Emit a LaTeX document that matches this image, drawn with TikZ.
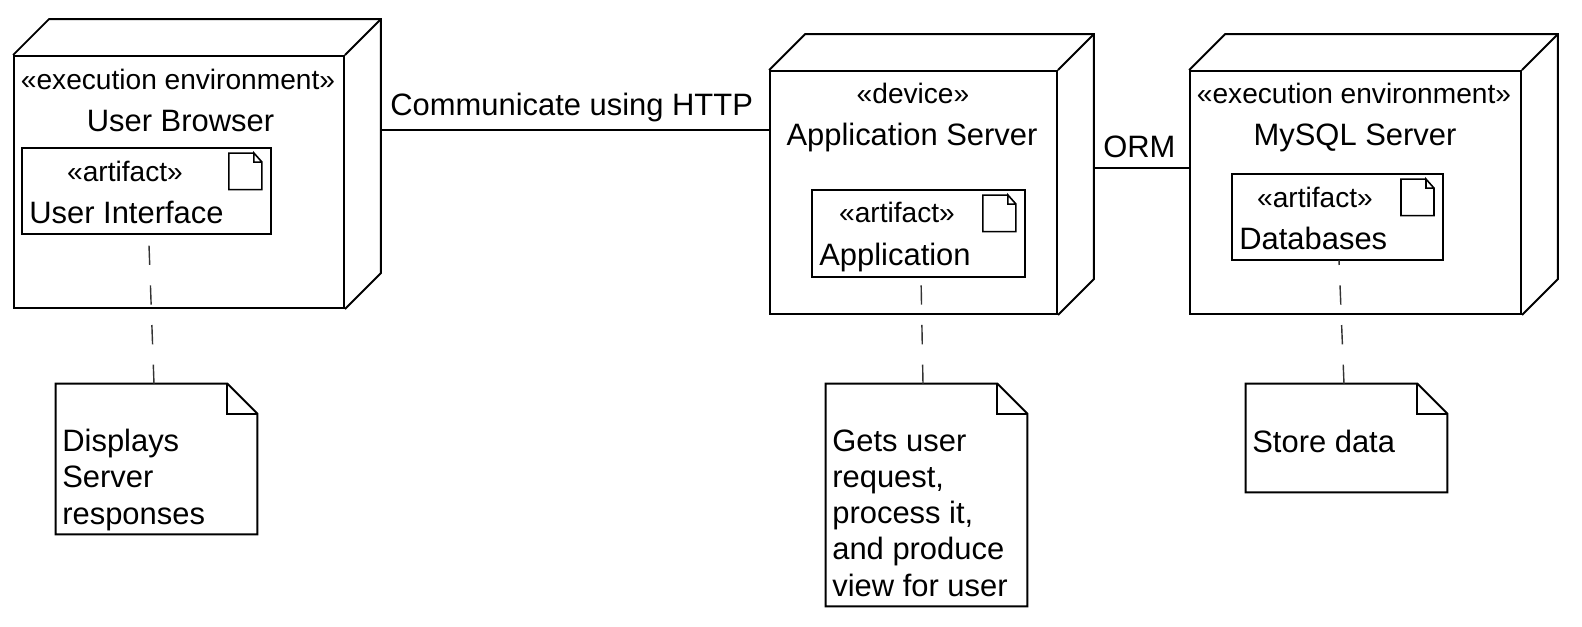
\documentclass[tikz,border=0pt]{standalone}
\usepackage{fontspec}
\setmainfont{Liberation Sans}
\usepackage{tikz}
\usepackage{xcolor}
\newcommand*{\BigText}{\fontsize{17.6}{20.5}\selectfont}
\newcommand*{\SmallText}{\fontsize{16}{19}\selectfont}
\tikzset{
    boxline/.style={draw=black, line width=1.1pt, line join=miter},
    devicebox/.style={boxline, inner sep=0pt},
    stereo/.style={anchor=base, inner sep=0pt, font=\SmallText},
    title/.style={anchor=base, inner sep=0pt, font=\BigText},
    lefttext/.style={anchor=base west, inner sep=0pt, font=\BigText, align=left},
    notelink/.style={draw=black!80, line width=0.8pt, dash pattern=on 11pt off 11.6pt},
}

\begin{document}
\begin{tikzpicture}[x=0.02cm, y=-0.02cm]
    \useasboundingbox (0,0) rectangle (1582,626);

    % the three cubes
    \node[devicebox, minimum width=6.60cm, minimum height=5.04cm] (browser) at (179,182) {};
    \node[devicebox, minimum width=5.74cm, minimum height=4.86cm] (appserver) at (913.5,192.5) {};
    \node[devicebox, minimum width=6.62cm, minimum height=4.86cm] (mysql) at (1355.5,192.5) {};
    \foreach \name in {browser,appserver,mysql} {
        \draw[boxline] (\name.north west) -- ++(36,-36) -| ([shift={(36,-36)}]\name.south east) -- (\name.south east);
        \draw[boxline] (\name.north east) -- ++(36,-36);
    }

    % artifacts
    \node[devicebox, minimum width=4.98cm, minimum height=1.72cm] (interface) at (146.5,191) {};
    \node[devicebox, minimum width=4.26cm, minimum height=1.74cm] (application) at (918.5,233.5) {};
    \node[devicebox, minimum width=4.22cm, minimum height=1.72cm] (databases) at (1337.5,217) {};
    \foreach \name in {interface,application,databases} {
        \coordinate (\name corner) at ([shift={(-18,6)}]\name.north east);
        \draw[boxline, line width=0.9pt] (\name corner) -- ++(-25,0) -- ++(0,36.5) -- ++(33,0) -- ++(0,-27.5) -- ++(-8,-9) -- ++(0,9) -- ++(8,0);
    }

    % notes
    \node[inner sep=0pt, minimum width=4.02cm, minimum height=3.00cm] (displaynote) at (156.5,459) {};
    \node[inner sep=0pt, minimum width=4.02cm, minimum height=4.44cm] (getsnote) at (926.5,495) {};
    \node[inner sep=0pt, minimum width=4.02cm, minimum height=2.16cm] (storenote) at (1346.5,438) {};
    \foreach \name in {displaynote,getsnote,storenote} {
        \draw[boxline] (\name.north west) -- ([xshift=-0.6cm]\name.north east)
            -- ([yshift=-0.6cm]\name.north east) -- (\name.south east) -- (\name.south west) -- cycle;
        \draw[boxline] ([xshift=-0.6cm]\name.north east) |- ([yshift=-0.6cm]\name.north east);
    }

    % connectors
    \coordinate (browserside) at (381,130);
    \coordinate (appside) at (1093,168);
    \draw[boxline] (browserside) -- (appserver.west |- browserside);
    \draw[boxline] (appside) -- (mysql.west |- appside);
    \coordinate (displaytop) at (154,384);
    \coordinate (getstop) at (923,384);
    \coordinate (storetop) at (1344,384);
    \coordinate (interfacefoot) at (148.6,234);
    \coordinate (applicationfoot) at (921,277);
    \coordinate (databasesfoot) at (1339,260);
    \draw[notelink] (displaytop) -- (interfacefoot);
    \draw[notelink] (getstop) -- (applicationfoot);
    \draw[notelink] (storetop) -- (databasesfoot);

    % texts
    \node[stereo] (browserstereo) at (178,89.5) {«execution environment»};
    \node[title] (browsername) at (180.5,131) {User Browser};
    \node[stereo] (interfacestereo) at (125,181.5) {«artifact»};
    \node[lefttext] (interfacename) at (29,223.5) {User Interface};
    \node[stereo] (appstereo) at (913,103.5) {«device»};
    \node[title] (appname) at (912,145) {Application Server};
    \node[stereo] (applicationstereo) at (897,222.5) {«artifact»};
    \node[lefttext] (applicationname) at (819,265) {Application};
    \node[stereo] (mysqlstereo) at (1354,103.5) {«execution environment»};
    \node[title] (mysqlname) at (1355,145) {MySQL Server};
    \node[stereo] (databasesstereo) at (1315,207) {«artifact»};
    \node[lefttext] (databasesname) at (1239,249) {Databases};
    \node[lefttext] (httplabel) at (390,115) {Communicate using HTTP};
    \node[lefttext] (ormlabel) at (1103,157) {ORM};
    \node[lefttext] (displaytext) at (62,524) {Displays\\Server\\responses};
    \node[lefttext] (getstext) at (832,596) {Gets user\\request,\\process it,\\and produce\\view for user};
    \node[lefttext] (storetext) at (1252,452) {Store data};
\end{tikzpicture}
\end{document}
